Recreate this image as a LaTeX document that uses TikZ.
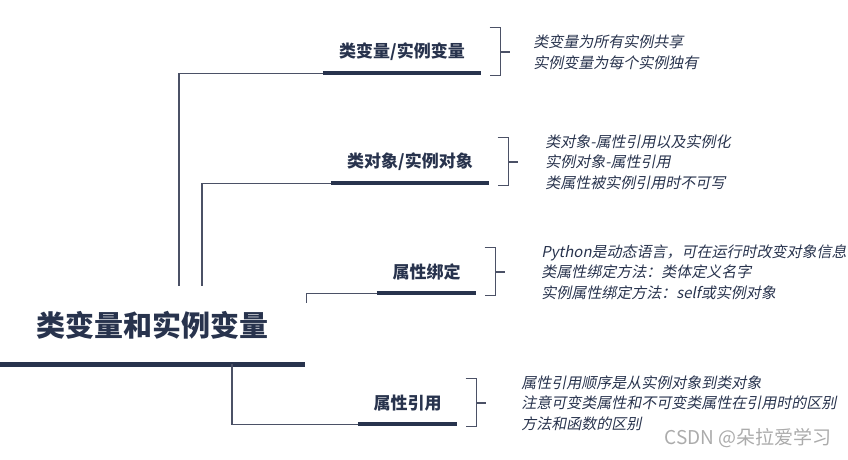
\documentclass[tikz,border=0pt]{standalone}
\usepackage{fontspec}
\setmainfont{Noto Sans CJK SC}
\newfontfamily\notefont{Noto Sans CJK SC}[FakeSlant=0.2]
\usetikzlibrary{positioning}
\definecolor{navy}{HTML}{28334D}
\definecolor{edgegray}{HTML}{4B5166}
\definecolor{markgray}{HTML}{ABABAB}
\tikzstyle{topic} = [text=navy, font=\bfseries\fontsize{29}{31}\selectfont, minimum width=305pt, minimum height=78pt, inner sep=0pt]
\tikzstyle{branch} = [text=navy, font=\bfseries\fontsize{17}{19}\selectfont, minimum height=42pt, inner sep=0pt]
\tikzstyle{note} = [text=navy, font=\notefont\fontsize{15}{20.5}\selectfont, align=left, inner sep=0pt]
\tikzstyle{bar} = [navy, line width=4pt]
\tikzstyle{link} = [edgegray, line width=1.2pt]
\tikzstyle{brace} = [edgegray, line width=1.2pt]
\tikzstyle{wmark} = [text=markgray, font=\fontsize{19}{21}\selectfont, inner sep=0pt]

\begin{document}
\begin{tikzpicture}[x=1pt, y=-1pt]
        \useasboundingbox (0,0) rectangle (848,460);
        \node (topic) [topic] at (152.5,325) {类变量和实例变量};
        \node (subone) [branch, minimum width=158pt] at (402,52) {类变量/实例变量};
        \node (subtwo) [branch, minimum width=158pt] at (410,162) {类对象/实例对象};
        \node (subthree) [branch, minimum width=99pt] at (426.5,272) {属性绑定};
        \node (subfour) [branch, minimum width=99pt] at (407.5,403) {属性引用};

        \node (noteone) [note, right=52pt of subone] {类变量为所有实例共享\\实例变量为每个实例独有};
        \node (notetwo) [note, right=56pt of subtwo] {类对象-属性引用以及实例化\\实例对象-属性引用\\类属性被实例引用时不可写};
        \node (notethree) [note, right=65pt of subthree] {Python是动态语言，可在运行时改变对象信息\\类属性绑定方法：类体定义名字\\实例属性绑定方法：self或实例对象};
        \node (notefour) [note, right=64pt of subfour] {属性引用顺序是从实例对象到类对象\\注意可变类属性和不可变类属性在引用时的区别\\方法和函数的区别};

        % underlines
        \draw [bar, line width=5pt] (topic.south west) -- (topic.south east);
        \draw [bar] (subone.south west) -- (subone.south east);
        \draw [bar] (subtwo.south west) -- (subtwo.south east);
        \draw [bar] (subthree.south west) -- (subthree.south east);
        \draw [bar] (subfour.south west) -- (subfour.south east);

        % stems from the topic
        \draw [link] ([xshift=26.5pt]topic.north) |- (subone.south west);
        \draw [link] ([xshift=49.5pt]topic.north) |- (subtwo.south west);
        \draw [link] ([xshift=1pt, yshift=-17pt]topic.north east) |- (subthree.south west);
        \draw [link] ([xshift=79.5pt]topic.south) |- (subfour.south west);

        % brackets to the notes
        \foreach \sub/\note in {subone/noteone, subtwo/notetwo, subthree/notethree, subfour/notefour} {
            \draw [brace] ([xshift=8.5pt, yshift=46pt]\sub.south east) -| ([xshift=19pt, yshift=-2pt]\sub.south east) -- ([xshift=8.5pt, yshift=-2pt]\sub.south east);
            \draw [brace] ([xshift=19pt]\sub.east) -- ([xshift=29pt]\sub.east);
        }

        \node (mark) [wmark] at (748,438) {CSDN @朵拉爱学习};
    \end{tikzpicture}
\end{document}
